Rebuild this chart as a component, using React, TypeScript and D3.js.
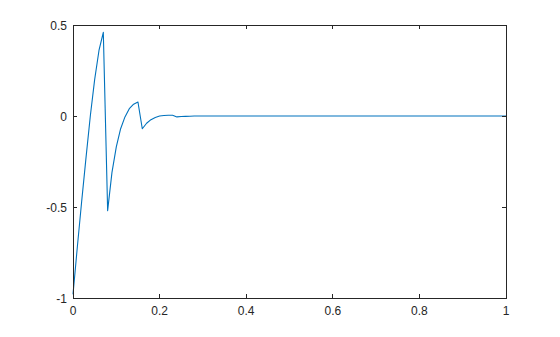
import React from "react";
import * as d3 from "d3";

const tValues = [0, 0.01, 0.02, 0.03, 0.04, 0.05, 0.06, 0.07, 0.08, 0.09, 0.1, 0.11, 0.12, 0.13, 0.14, 0.15, 0.16, 0.17, 0.18, 0.19, 0.2, 0.21, 0.22, 0.23, 0.24, 0.25, 0.26, 0.27, 0.28, 0.29, 0.3, 1.0];
const yValues = [-0.98, -0.72, -0.47, -0.23, 0.0, 0.2, 0.36, 0.46, -0.52, -0.31, -0.17, -0.07, -0.005, 0.04, 0.065, 0.077, -0.07, -0.04, -0.02, -0.008, 0.0, 0.003, 0.004, 0.004, -0.005, -0.003, -0.002, -0.001, 0, 0, 0, 0];
const xTicks = [0, 0.2, 0.4, 0.6, 0.8, 1];
const xTickLabels = ["0", "0.2", "0.4", "0.6", "0.8", "1"];
const yTicks = [-1, -0.5, 0, 0.5];
const yTickLabels = ["-1", "-0.5", "0", "0.5"];

export default function App() {
  const W = 560, H = 337;
  const left = 73, right = 506, top = 25, bottom = 298;
  const x = d3.scaleLinear().domain([0, 1]).range([left, right]);
  const y = d3.scaleLinear().domain([-1, 0.5]).range([bottom, top]);
  const pts = tValues.map((t, i) => [t, yValues[i]] as [number, number]);
  const line = d3.line<[number, number]>().x(d => x(d[0])).y(d => y(d[1]));
  const axisColor = "#262626";
  const tl = 4.3;
  const font = "'Liberation Sans', Arial, sans-serif";
  return (
    <svg width={W} height={H} style={{ position: "absolute", left: 0, top: 0, background: "#fff" }}>
      <rect x={0} y={0} width={W} height={H} fill="#fff" />
      <path d={line(pts) || ""} fill="none" stroke="#0072BD" strokeWidth={1.1} strokeLinejoin="round" />
      <rect x={left} y={top} width={right - left} height={bottom - top} fill="none" stroke={axisColor} strokeWidth={1} shapeRendering="crispEdges" />
      {xTicks.map((t, i) => (
        <g key={"x" + i}>
          <line x1={x(t)} x2={x(t)} y1={bottom} y2={bottom - tl} stroke={axisColor} shapeRendering="crispEdges" />
          <line x1={x(t)} x2={x(t)} y1={top} y2={top + tl} stroke={axisColor} shapeRendering="crispEdges" />
          <text x={x(t)} y={bottom + 17} textAnchor="middle" fontFamily={font} fontSize={12} fill={axisColor}>{xTickLabels[i]}</text>
        </g>
      ))}
      {yTicks.map((t, i) => (
        <g key={"y" + i}>
          <line x1={left} x2={left + tl} y1={y(t)} y2={y(t)} stroke={axisColor} shapeRendering="crispEdges" />
          <line x1={right} x2={right - tl} y1={y(t)} y2={y(t)} stroke={axisColor} shapeRendering="crispEdges" />
          <text x={left - 6} y={y(t) + 4.5} textAnchor="end" fontFamily={font} fontSize={12} fill={axisColor}>{yTickLabels[i]}</text>
        </g>
      ))}
    </svg>
  );
}
